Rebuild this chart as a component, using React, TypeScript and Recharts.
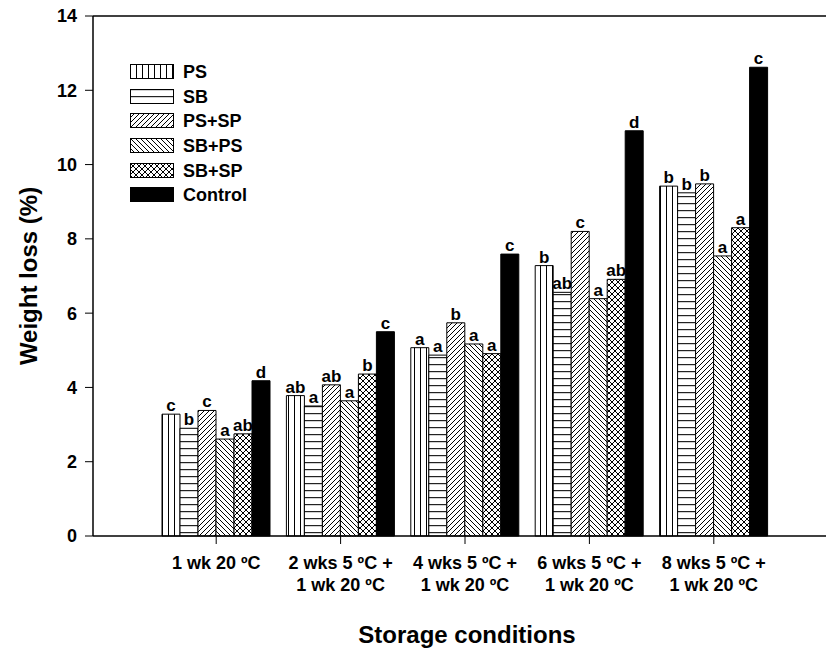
import React from 'react';
import { BarChart, Bar, XAxis, YAxis, LabelList, Legend, ReferenceLine } from 'recharts';

const categories = [
  '1 wk 20 ºC',
  '2 wks 5 ºC +\n1 wk 20 ºC',
  '4 wks 5 ºC +\n1 wk 20 ºC',
  '6 wks 5 ºC +\n1 wk 20 ºC',
  '8 wks 5 ºC +\n1 wk 20 ºC',
];

const ps = [3.28, 3.78, 5.07, 7.28, 9.42];
const sb = [2.9, 3.5, 4.87, 6.56, 9.24];
const psSp = [3.38, 4.07, 5.74, 8.2, 9.48];
const sbPs = [2.61, 3.64, 5.17, 6.39, 7.54];
const sbSp = [2.75, 4.36, 4.91, 6.91, 8.3];
const control = [4.18, 5.5, 7.59, 10.91, 12.62];

const psLetters = ['c', 'ab', 'a', 'b', 'b'];
const sbLetters = ['b', 'a', 'a', 'ab', 'b'];
const psSpLetters = ['c', 'ab', 'b', 'c', 'b'];
const sbPsLetters = ['a', 'a', 'a', 'a', 'a'];
const sbSpLetters = ['ab', 'b', 'a', 'ab', 'a'];
const controlLetters = ['d', 'c', 'c', 'd', 'c'];

const yTicks = [0, 2, 4, 6, 8, 10, 12, 14];

const series = [
  { key: 'ps', name: 'PS', fill: 'url(#pVert)', values: ps, letters: psLetters },
  { key: 'sb', name: 'SB', fill: 'url(#pHoriz)', values: sb, letters: sbLetters },
  { key: 'psSp', name: 'PS+SP', fill: 'url(#pFwd)', values: psSp, letters: psSpLetters },
  { key: 'sbPs', name: 'SB+PS', fill: 'url(#pBack)', values: sbPs, letters: sbPsLetters },
  { key: 'sbSp', name: 'SB+SP', fill: 'url(#pCross)', values: sbSp, letters: sbSpLetters },
  { key: 'control', name: 'Control', fill: '#000', values: control, letters: controlLetters },
];

const data = categories.map((c, i) => {
  const row: Record<string, string | number> = { cat: c };
  series.forEach((s) => {
    row[s.key] = s.values[i];
    row[s.key + 'L'] = s.letters[i];
  });
  return row;
});

const font = '"Liberation Sans", Arial, sans-serif';

const CatTick = (props: any) => {
  const { x, y, payload } = props;
  const lines = String(payload.value).split('\n');
  return (
    <text x={x} y={y} textAnchor="middle" fontFamily={font} fontWeight="bold" fontSize={18} fill="#000">
      {lines.map((l, i) => (
        <tspan key={i} x={x} dy={i === 0 ? 23 : 22}>
          {l}
        </tspan>
      ))}
    </text>
  );
};

const LegendBox = () => (
  <div style={{ fontFamily: font, fontWeight: 'bold', fontSize: 18 }}>
    {series.map((s) => (
      <div key={s.key} style={{ display: 'flex', alignItems: 'center', height: 24.6 }}>
        <svg width={44} height={16} style={{ display: 'block' }}>
          <rect x={0.5} y={0.5} width={43} height={14} fill={s.fill} stroke="#000" strokeWidth={1} />
        </svg>
        <span style={{ marginLeft: 9, lineHeight: '18px' }}>{s.name}</span>
      </div>
    ))}
  </div>
);

export default function App() {
  return (
    <div style={{ position: 'absolute', left: 0, top: 0, background: '#fff' }}>
      <BarChart
        width={826}
        height={648}
        data={data}
        margin={{ top: 16, right: 0, bottom: 0, left: 0 }}
        barCategoryGap={8}
        barGap={0}
      >
        <defs>
          <pattern id="pVert" width="6" height="6" patternUnits="userSpaceOnUse">
            <rect width="6" height="6" fill="#fff" />
            <line x1="0.5" y1="0" x2="0.5" y2="6" stroke="#000" strokeWidth="1" />
          </pattern>
          <pattern id="pHoriz" width="7" height="7" patternUnits="userSpaceOnUse">
            <rect width="7" height="7" fill="#fff" />
            <line x1="0" y1="0.5" x2="7" y2="0.5" stroke="#222" strokeWidth="1.4" />
          </pattern>
          <pattern id="pFwd" width="5" height="5" patternUnits="userSpaceOnUse">
            <rect width="5" height="5" fill="#fff" />
            <path d="M-1,1 l2,-2 M0,5 l5,-5 M4,6 l2,-2" stroke="#000" strokeWidth="1" />
          </pattern>
          <pattern id="pBack" width="5" height="5" patternUnits="userSpaceOnUse">
            <rect width="5" height="5" fill="#fff" />
            <path d="M-1,4 l2,2 M0,0 l5,5 M4,-1 l2,2" stroke="#000" strokeWidth="1" />
          </pattern>
          <pattern id="pCross" width="6" height="6" patternUnits="userSpaceOnUse">
            <rect width="6" height="6" fill="#fff" />
            <path d="M-1,1 l2,-2 M0,6 l6,-6 M5,7 l2,-2 M-1,5 l2,2 M0,0 l6,6 M5,-1 l2,2" stroke="#000" strokeWidth="1" />
          </pattern>
        </defs>
        <XAxis
          dataKey="cat"
          height={112}
          interval={0}
          padding={{ left: 61, right: 50 }}
          tick={<CatTick />}
          tickSize={8}
          axisLine={{ stroke: '#000', strokeWidth: 1.5 }}
          tickLine={{ stroke: '#000', strokeWidth: 1 }}
          label={{
            content: (p: any) => {
              const vb = p.viewBox;
              return (
                <text x={vb.x + 374} y={vb.y + 107} textAnchor="middle" fontFamily={font} fontWeight="bold" fontSize={24} fill="#000">
                  Storage conditions
                </text>
              );
            },
          }}
        />
        <YAxis
          width={93}
          domain={[0, 14]}
          ticks={yTicks}
          interval={0}
          tickSize={8}
          tickMargin={8}
          axisLine={{ stroke: '#000', strokeWidth: 1.5 }}
          tickLine={{ stroke: '#000', strokeWidth: 1 }}
          tick={{ fill: '#000', fontFamily: font, fontWeight: 'bold', fontSize: 18 }}
          label={{
            content: (p: any) => {
              const vb = p.viewBox;
              const cx = vb.x + 28;
              const cy = vb.y + vb.height / 2;
              return (
                <text x={cx} y={cy} transform={`rotate(-90 ${cx} ${cy})`} textAnchor="middle" dominantBaseline="central" fontFamily={font} fontWeight="bold" fontSize={24} fill="#000">
                  Weight loss (%)
                </text>
              );
            },
          }}
        />
        <ReferenceLine y={14} stroke="#000" strokeWidth={1.5} />
        <Legend
          layout="vertical"
          align="center"
          verticalAlign="middle"
          content={<LegendBox />}
          wrapperStyle={{ left: 130, top: 60, width: 'auto' }}
        />
        {series.map((s) => (
          <Bar key={s.key} dataKey={s.key} name={s.name} fill={s.fill} stroke="#000" strokeWidth={1} isAnimationActive={false}>
            <LabelList dataKey={s.key + 'L'} position="top" offset={3} fill="#000" fontFamily={font} fontWeight="bold" fontSize={17} />
          </Bar>
        ))}
      </BarChart>
    </div>
  );
}
